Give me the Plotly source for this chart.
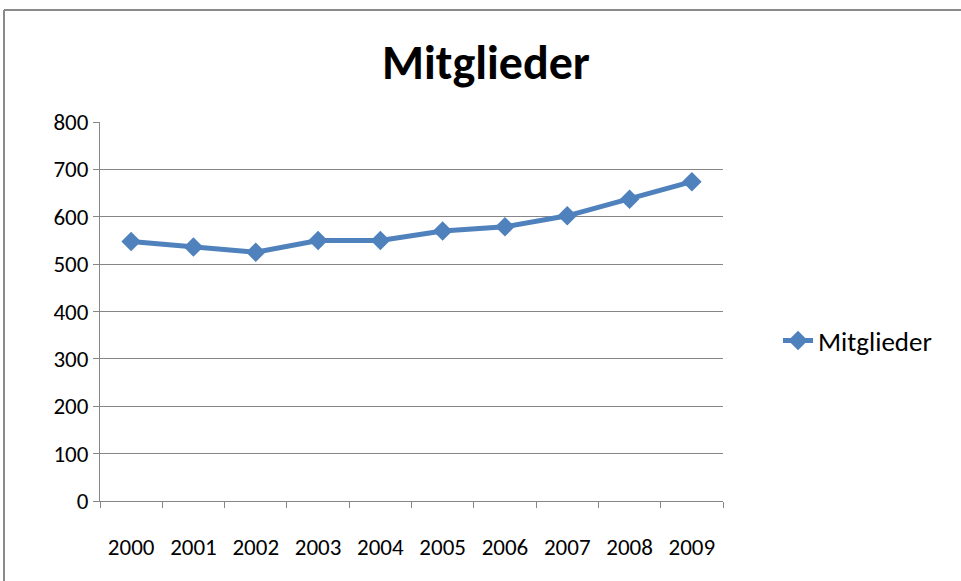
import plotly.graph_objects as go

years = ["2000", "2001", "2002", "2003", "2004", "2005", "2006", "2007", "2008", "2009"]
mitglieder = [548, 536, 525, 550, 550, 570, 579, 602, 637, 674]
y_ticks = [0, 100, 200, 300, 400, 500, 600, 700, 800]

W, H = 961, 581
L, R, T, B = 100, 238, 122, 80
pw, ph = W - L - R, H - T - B

fig = go.Figure()
fig.add_trace(go.Scatter(
    x=years, y=mitglieder, name="Mitglieder", mode="lines+markers",
    line=dict(color="#4F81BD", width=5),
    marker=dict(symbol="diamond", size=15, color="#4F81BD"),
))

font_family = "Carlito, Lato, sans-serif"

fig.update_layout(
    width=W, height=H,
    margin=dict(l=L, r=R, t=T, b=B),
    paper_bgcolor="white", plot_bgcolor="white",
    title=dict(text="<b>Mitglieder</b>", x=(486) / W, xanchor="center",
               y=1 - 62 / H, yanchor="middle",
               font=dict(family=font_family, size=48, color="black")),
    showlegend=True,
    legend=dict(x=(778 - L) / pw, y=(H - B - 341) / ph, xanchor="left", yanchor="middle",
                font=dict(family=font_family, size=27, color="black"),
                bgcolor="rgba(0,0,0,0)", itemwidth=30),
    font=dict(family=font_family, color="black"),
)

fig.update_xaxes(
    type="category", range=[-0.5, 9.5],
    showline=True, linecolor="#868686", linewidth=1,
    ticks="outside", tickson="boundaries", ticklen=6, tickcolor="#868686",
    showgrid=False, ticklabelstandoff=25,
    tickfont=dict(family=font_family, size=23, color="black"),
)
fig.update_yaxes(
    range=[0, 800], tickvals=y_ticks,
    showline=True, linecolor="#868686", linewidth=1,
    ticks="outside", ticklen=6, tickcolor="#868686",
    showgrid=True, gridcolor="#868686", gridwidth=1,
    zeroline=False, ticklabelstandoff=0,
    tickfont=dict(family=font_family, size=23, color="black"),
)

# outer chart border (Excel chart area frame)
x0 = (4 - L) / pw
ytop = (H - B - 10) / ph
fig.add_shape(type="line", xref="paper", yref="paper", x0=x0, x1=x0, y0=-(B + 10) / ph, y1=ytop,
              line=dict(color="#8A8A8A", width=2))
fig.add_shape(type="line", xref="paper", yref="paper", x0=x0, x1=(W + 10 - L) / pw, y0=ytop, y1=ytop,
              line=dict(color="#8A8A8A", width=2))

fig.write_html("out.html", config={"displayModeBar": False},
               post_script="document.body.style.margin='0';document.body.style.overflow='hidden';")
